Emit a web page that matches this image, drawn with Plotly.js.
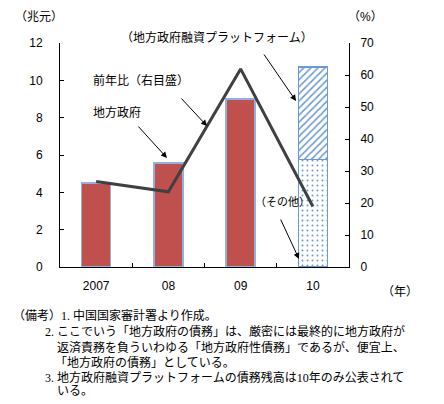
<!DOCTYPE html>
<html><head><meta charset="utf-8">
<script src="https://cdn.plot.ly/plotly-3.0.1.min.js"></script>
<style>body{margin:0;background:#fff}</style>
</head><body><div id="chart" style="width:444px;height:404px"></div>
<script>
const years = ["2007", "08", "09", "10"];
const localGov = [4.5, 5.57, 9.0, null];
const otherDebt = [null, null, null, 5.75];
const platformDebt = [null, null, null, 4.97];
const yoyGrowth = [26.7, 23.5, 61.9, 18.9];

const L = 60, R = 349, T = 43, B = 267;
const W = R - L, H = B - T;
const px = x => (x - L) / W;
const py = y => (B - y) / H;
const fontJ = "Liberation Sans, Noto Sans CJK JP, sans-serif";
const fontN = "Liberation Serif, Noto Sans CJK JP, serif";

const traces = [
  {type:"bar", x: years, y: localGov, width: 0.4, yaxis:"y",
   marker:{color:"#C0504D", line:{color:"#8DB3E2", width:1.5}}, hoverinfo:"skip"},
  {type:"bar", x: years, y: otherDebt, width: 0.4, yaxis:"y",
   marker:{color:"#ffffff", line:{color:"#6A98D8", width:1.5},
     pattern:{shape:".", fgcolor:"#6A98D8", bgcolor:"#ffffff", size:5, solidity:0.12}}},
  {type:"bar", x: years, y: platformDebt, width: 0.4, yaxis:"y",
   marker:{color:"#ffffff", line:{color:"#6A98D8", width:1.5},
     pattern:{shape:"/", fgcolor:"#6A98D8", bgcolor:"#ffffff", size:5, solidity:0.3}}},
  {type:"scatter", mode:"lines", x: years, y: yoyGrowth, yaxis:"y2",
   line:{color:"#404040", width:3}}
];

function lbl(text, x, y, size, anchor){
  return {text, xref:"paper", yref:"paper", x:px(x), y:py(y), showarrow:false,
    xanchor: anchor || "left", yanchor:"middle", font:{family:fontJ, size:size||12, color:"#000"}};
}
function arrow(hx, hy, tx, ty){
  return {text:"", xref:"paper", yref:"paper", x:px(hx), y:py(hy), ax:tx-hx, ay:ty-hy,
    showarrow:true, arrowhead:2, arrowsize:1.2, arrowwidth:1, arrowcolor:"#000"};
}
function note(text, x, y){
  return {text, xref:"paper", yref:"paper", x:px(x), y:py(y), showarrow:false,
    xanchor:"left", yanchor:"middle", font:{family:fontN, size:12, color:"#000"}};
}

const annotations = [
  lbl("（兆元）", 13, 17, 12),
  lbl("（%）", 346, 17, 12),
  lbl("（年）", 380, 292, 12),
  lbl("（地方政府融資プラットフォーム）", 217, 37, 12, "center"),
  lbl("前年比（右目盛）", 91, 80, 12),
  lbl("地方政府", 91, 112, 12),
  lbl("（その他）", 253, 202, 11),
  arrow(296, 101, 263, 53),
  arrow(207, 126, 180, 97),
  arrow(167, 158, 137, 125),
  arrow(299, 259, 280, 218),
  note("（備考）1. 中国国家審計署より作成。", 11, 315),
  note("2. ここでいう「地方政府の債務」は、厳密には最終的に地方政府が", 43, 331),
  note("返済責務を負ういわゆる「地方政府性債務」であるが、便宜上、", 55, 347),
  note("「地方政府の債務」としている。", 53, 362),
  note("3. 地方政府融資プラットフォームの債務残高は10年のみ公表されて", 43, 377),
  note("いる。", 55, 391)
];

const layout = {
  width:444, height:404, autosize:false,
  margin:{l:L, r:444-R, t:T, b:404-B, pad:0},
  paper_bgcolor:"#fff", plot_bgcolor:"#fff",
  barmode:"stack", showlegend:false,
  font:{family:fontJ, size:12, color:"#000"},
  xaxis:{type:"category", range:[-0.5,3.5], showline:true, linecolor:"#000", linewidth:1,
    ticks:"inside", tickson:"boundaries", ticklen:4, tickcolor:"#000",
    showgrid:false, zeroline:false, ticklabelstandoff:8,
    tickfont:{family:fontJ, size:12, color:"#000"}},
  yaxis:{range:[0,12], dtick:2, showline:true, linecolor:"#000", linewidth:1,
    ticks:"inside", ticklen:4, tickcolor:"#000", showgrid:false, zeroline:false,
    ticklabelstandoff:14, tickfont:{family:fontJ, size:12, color:"#000"}},
  yaxis2:{range:[0,70], dtick:10, overlaying:"y", side:"right", showline:true,
    linecolor:"#000", linewidth:1, ticks:"inside", ticklen:4, tickcolor:"#000",
    showgrid:false, zeroline:false, ticklabelstandoff:8,
    tickfont:{family:fontJ, size:12, color:"#000"}},
  annotations
};

Plotly.newPlot("chart", traces, layout, {displayModeBar:false, staticPlot:true});
</script></body></html>
